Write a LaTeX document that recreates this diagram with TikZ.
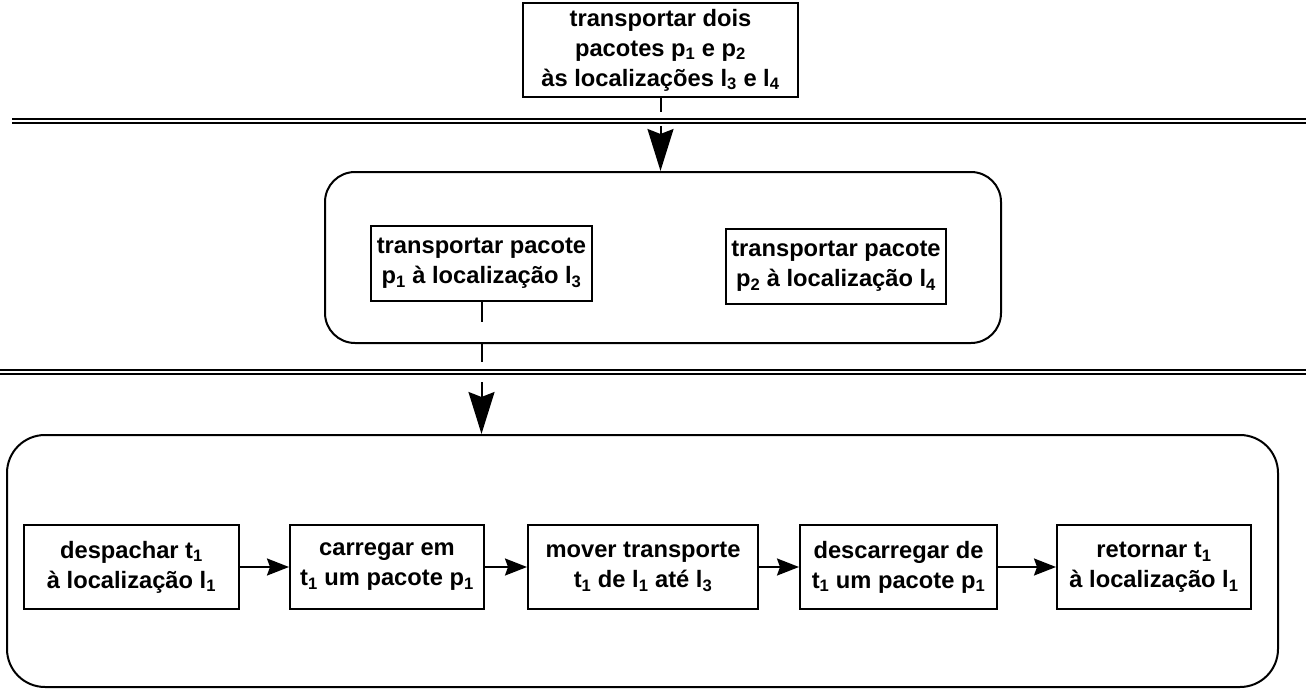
\documentclass[tikz,border=0pt]{standalone}
\usepackage{fontspec}
\setmainfont{Liberation Sans}
\usetikzlibrary{arrows.meta}
\newcommand{\sbs}[1]{\textsubscript{#1}}

\begin{document}
\begin{tikzpicture}[x=1pt, y=-1pt,
  task/.style={draw, line width=2pt, align=center, inner sep=2pt,
    font=\fontsize{23.7}{30}\selectfont\bfseries},
  group/.style={draw, line width=2pt, rounded corners=#1},
  decomp/.style={-{Stealth[length=42pt,width=26pt,inset=5pt]}, line width=2pt},
  seq/.style={-{Stealth[length=22pt,width=17pt,inset=3pt]}, line width=2pt},
  sepline/.style={double=white, double distance=2pt, line width=1.6pt}]
  \useasboundingbox (0,0) rectangle (1306,690);

  % Top-level task
  \node[task, minimum width=275pt, minimum height=94pt] (goal) at (660.5,50)
    {transportar dois\\pacotes p\sbs{1} e p\sbs{2}\\às localizações l\sbs{3} e l\sbs{4}};

  % Level separators
  \draw[sepline] (12,121) -- (1306,121);
  \draw[sepline] (0,372) -- (1306,372);

  % First decomposition
  \node[group=30pt, minimum width=676pt, minimum height=171pt] (mid) at (663,257.5) {};
  \node[task, minimum width=221pt, minimum height=75pt] (pk1) at (481.5,263.5)
    {transportar pacote\\p\sbs{1} à localização l\sbs{3}};
  \node[task, minimum width=220pt, minimum height=75pt] (pk2) at (836,266.5)
    {transportar pacote\\p\sbs{2} à localização l\sbs{4}};

  % Second decomposition
  \node[group=38pt, minimum width=1271pt, minimum height=252pt] (low) at (642.5,561) {};
  \node[task, minimum width=215pt, minimum height=84pt] (s1) at (131.5,567)
    {despachar t\sbs{1}\\à localização l\sbs{1}};
  \node[task, minimum width=194pt, minimum height=84pt] (s2) at (387,567)
    {carregar em\\t\sbs{1} um pacote p\sbs{1}};
  \node[task, minimum width=230pt, minimum height=84pt] (s3) at (643,567)
    {mover transporte\\t\sbs{1} de l\sbs{1} até l\sbs{3}};
  \node[task, minimum width=197pt, minimum height=84pt] (s4) at (898.5,567)
    {descarregar de\\t\sbs{1} um pacote p\sbs{1}};
  \node[task, minimum width=194pt, minimum height=84pt] (s5) at (1154,567)
    {retornar t\sbs{1}\\à localização l\sbs{1}};

  % Decomposition links
  \draw[decomp, dash pattern=on 14pt off 14pt] (goal.south) -- (goal.south |- mid.north);
  \draw[decomp, dash pattern=on 20pt off 20pt] (pk1.south) -- (pk1.south |- low.north);

  % Ordering of the steps
  \foreach \a/\b in {s1/s2,s2/s3,s3/s4,s4/s5}
    \draw[seq] (\a) -- (\b);
\end{tikzpicture}
\end{document}
